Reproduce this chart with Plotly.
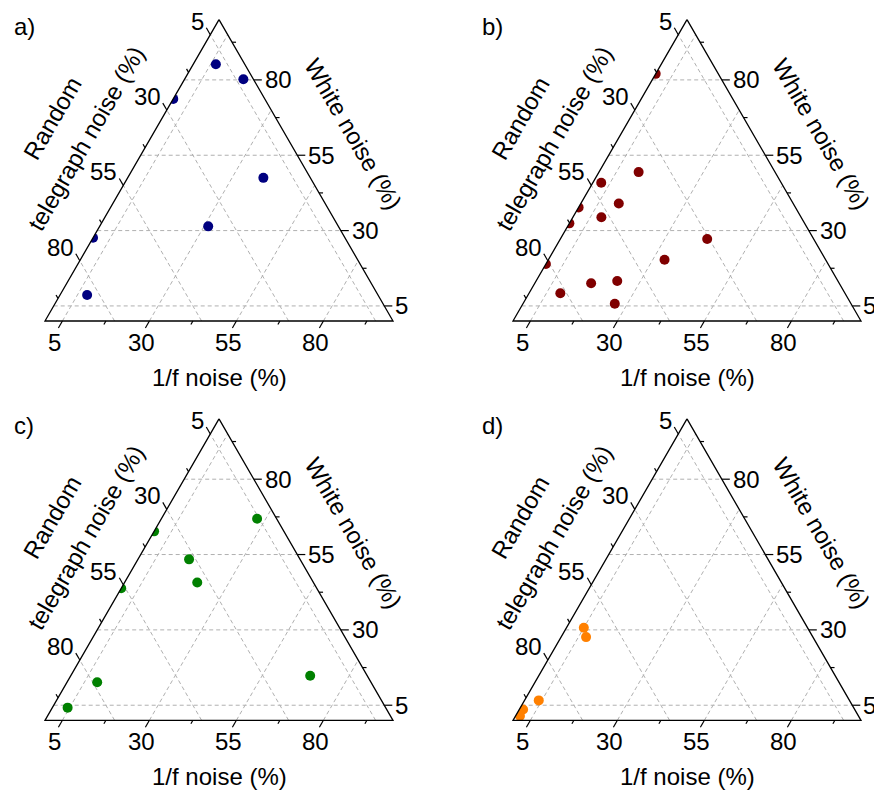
import numpy as np
import plotly.graph_objects as go
from plotly.subplots import make_subplots

# Axis ticks shared by the three ternary axes (percent)
major_ticks = [5, 30, 55, 80]
minor_ticks = [17.5, 42.5, 67.5, 92.5]
tick_labels = ["5", "30", "55", "80"]

panel_names = ["a)", "b)", "c)", "d)"]
panel_colors = ["#000080", "#800000", "#008000", "#ff8000"]

# Noise composition of each sample: white noise and 1/f noise (%);
# random telegraph noise makes up the rest.
white_a = [85.2, 80.2, 73.7, 47.5, 31.4, 27.6, 8.6]
flicker_a = [6.5, 16.9, 0.0, 39.0, 31.2, 0.0, 7.8]

white_b = [82.0, 49.4, 45.9, 39.0, 37.7, 34.4, 32.4, 27.2, 20.3, 18.9, 13.3, 12.5, 9.2, 5.7]
flicker_b = [0.0, 11.4, 2.4, 10.9, 0.0, 8.2, 0.0, 42.2, 33.4, 0.0, 23.3, 16.2, 9.0, 26.4]

white_c = [66.9, 62.7, 53.4, 45.7, 43.8, 14.8, 12.6, 4.2]
flicker_c = [27.5, 0.0, 14.7, 20.9, 0.0, 68.8, 8.7, 4.4]

white_d = [30.7, 27.6, 6.6, 3.6, 1.4]
flicker_d = [5.0, 7.2, 4.1, 1.1, 1.3]

panels = [(white_a, flicker_a), (white_b, flicker_b), (white_c, flicker_c), (white_d, flicker_d)]

FONT = "Liberation Sans, Arial, sans-serif"
FS = 24
H3 = np.sqrt(3) / 2

# pixel geometry: side of the triangle and position of its lower-left corner in each cell
SIDE = 348.0
CELL_W, CELL_H = 437.0, 397.0
corner_px = [(45.0, 321.0), (76.0, 321.0), (45.0, 323.3), (76.0, 323.3)]


def tern(white, flicker):
    """Ternary (percent) -> cartesian, white noise at the apex, 1/f at lower right."""
    a = np.asarray(white, dtype=float) / 100.0
    c = np.asarray(flicker, dtype=float) / 100.0
    return c + a / 2.0, a * H3


def segs(pairs):
    xs, ys = [], []
    for (x0, y0), (x1, y1) in pairs:
        xs += [x0, x1, None]
        ys += [y0, y1, None]
    return xs, ys


fig = make_subplots(rows=2, cols=2, horizontal_spacing=0, vertical_spacing=0)

for k, (white, flicker) in enumerate(panels):
    row, col = k // 2 + 1, k % 2 + 1
    xref = "x" if k == 0 else f"x{k + 1}"
    yref = "y" if k == 0 else f"y{k + 1}"

    # dashed grid lines at the major ticks of every axis
    grid = []
    for v in major_ticks:
        grid.append((tern(v, 0), tern(v, 100 - v)))          # constant white noise
        grid.append((tern(0, 100 - v), tern(100 - v, 0)))    # constant telegraph noise
        grid.append((tern(0, v), tern(100 - v, v)))          # constant 1/f noise
    gx, gy = segs(grid)
    fig.add_trace(go.Scatter(x=gx, y=gy, mode="lines", hoverinfo="skip",
                             line=dict(color="#b0b0b0", width=1, dash="4px,3px")),
                  row=row, col=col)

    # samples
    px_, py_ = tern(white, flicker)
    fig.add_trace(go.Scatter(x=px_, y=py_, mode="markers",
                             marker=dict(size=10, color=panel_colors[k], line=dict(width=0))),
                  row=row, col=col)

    # white band around the triangle so markers are clipped at its edges
    T, L, R = tern(100, 0), tern(0, 0), tern(0, 100)
    G = (0.5, H3 / 3)
    grow = 1 + 14.0 / (SIDE / (2 * np.sqrt(3)))
    To, Lo, Ro = [(G[0] + (p[0] - G[0]) * grow, G[1] + (p[1] - G[1]) * grow) for p in (T, L, R)]
    ring = [To, Lo, Ro, To, T, R, L, T, To]
    fig.add_trace(go.Scatter(x=[p[0] for p in ring], y=[p[1] for p in ring], mode="lines",
                             fill="toself", fillcolor="white", line=dict(width=0),
                             hoverinfo="skip"),
                  row=row, col=col)

    # triangle outline
    fig.add_trace(go.Scatter(x=[T[0], L[0], R[0], T[0]], y=[T[1], L[1], R[1], T[1]],
                             mode="lines", hoverinfo="skip",
                             line=dict(color="black", width=1.3)),
                  row=row, col=col)

    # outward tick marks
    ticks = []
    for vals, ln in ((major_ticks, 8.0), (minor_ticks, 4.0)):
        d = ln / SIDE
        for v in vals:
            bx, by = tern(0, v)                     # bottom edge: 1/f noise
            ticks.append(((bx, by), (bx - 0.5 * d, by - H3 * d)))
            rx, ry = tern(v, 100 - v)               # right edge: white noise
            ticks.append(((rx, ry), (rx + d, ry)))
            lx, ly = tern(100 - v, 0)               # left edge: telegraph noise
            ticks.append(((lx, ly), (lx - 0.5 * d, ly + H3 * d)))
    tx, ty = segs(ticks)
    fig.add_trace(go.Scatter(x=tx, y=ty, mode="lines", hoverinfo="skip",
                             line=dict(color="black", width=1.2)),
                  row=row, col=col)

    # tick labels
    font = dict(family=FONT, size=FS, color="black")
    for v, lab in zip(major_ticks, tick_labels):
        bx, by = tern(0, v)
        fig.add_annotation(x=float(bx), y=float(by), xref=xref, yref=yref, text=lab,
                           showarrow=False, xanchor="center", yanchor="middle",
                           xshift=-8, yshift=-21, font=font)
        rx, ry = tern(v, 100 - v)
        fig.add_annotation(x=float(rx), y=float(ry), xref=xref, yref=yref, text=lab,
                           showarrow=False, xanchor="left", yanchor="middle",
                           xshift=9, yshift=0, font=font)
        lx, ly = tern(100 - v, 0)
        fig.add_annotation(x=float(lx), y=float(ly), xref=xref, yref=yref, text=lab,
                           showarrow=False, xanchor="right", yanchor="middle",
                           xshift=-4, yshift=13.5, font=font)

    # axis titles
    fig.add_annotation(x=0.5, y=0.0, xref=xref, yref=yref, text="1/f noise (%)",
                       showarrow=False, xanchor="center", yanchor="middle",
                       yshift=-56, font=font)
    fig.add_annotation(x=0.25, y=H3 / 2, xref=xref, yref=yref, text="telegraph noise (%)",
                       showarrow=False, xanchor="center", yanchor="middle", textangle=-60,
                       xshift=-46, yshift=32, font=font)
    fig.add_annotation(x=0.25, y=H3 / 2, xref=xref, yref=yref, text="Random",
                       showarrow=False, xanchor="center", yanchor="middle", textangle=-60,
                       xshift=-80, yshift=52, font=font)
    fig.add_annotation(x=0.75, y=H3 / 2, xref=xref, yref=yref, text="White noise (%)",
                       showarrow=False, xanchor="center", yanchor="middle", textangle=60,
                       xshift=47, yshift=37, font=font)

    # panel letter
    fig.add_annotation(x=0.0, y=float(H3), xref=xref, yref=yref, text=panel_names[k],
                       showarrow=False, xanchor="left", yanchor="middle",
                       xshift=-33, yshift=-7, font=font)

    # axes: plain cartesian frame with the triangle scaled to SIDE pixels
    lx0, ly0 = corner_px[k]
    fig.update_xaxes(range=[-lx0 / SIDE, (CELL_W - lx0) / SIDE], visible=False,
                     fixedrange=True, row=row, col=col)
    fig.update_yaxes(range=[-(CELL_H - ly0) / SIDE, ly0 / SIDE], visible=False,
                     fixedrange=True, row=row, col=col)

fig.update_layout(width=874, height=794, margin=dict(l=0, r=0, t=0, b=0),
                  showlegend=False, plot_bgcolor="white", paper_bgcolor="white",
                  font=dict(family=FONT, size=FS, color="black"))

fig.write_html("out.html")
